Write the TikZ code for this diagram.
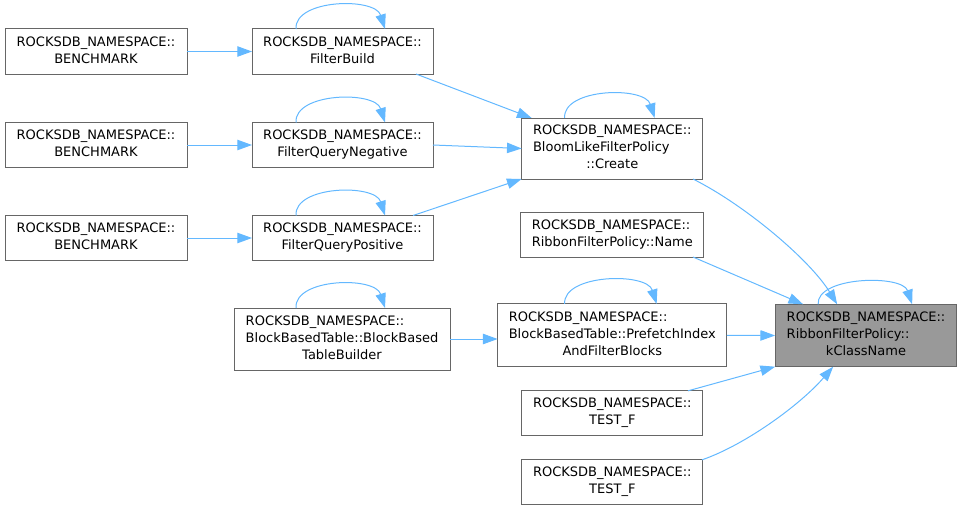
\documentclass[tikz,border=0pt]{standalone}
\usepackage{fontspec}
\setmainfont{DejaVu Sans}
\usetikzlibrary{arrows.meta,calc}
\definecolor{edgeblue}{HTML}{63B8FF}
\definecolor{boxgray}{HTML}{666666}
\definecolor{fillgray}{HTML}{999999}
\newcommand{\twol}[2]{\begin{tabular}{@{}l@{}}#1\\\multicolumn{1}{@{}c@{}}{#2}\end{tabular}}
\newcommand{\threel}[3]{\begin{tabular}{@{}l@{}}#1\\#2\\\multicolumn{1}{@{}c@{}}{#3}\end{tabular}}
\begin{document}
\begin{tikzpicture}[x=0.75pt,y=-0.75pt,
  box/.style={draw=boxgray, line width=0.75pt, fill=white, inner sep=0pt, outer sep=0pt,
    font=\fontsize{9.75}{12.75}\selectfont, text=black},
  hl/.style={box, fill=fillgray},
  edge/.style={draw=edgeblue, line width=0.75pt, -{Triangle[length=11pt,width=7.8pt]}}]
\useasboundingbox (0,0) rectangle (962,510);
% left column
\node[box, minimum width=136.5pt, minimum height=33.75pt] (b1) at (96,51.5) {\twol{ROCKSDB\_NAMESPACE::}{BENCHMARK}};
\node[box, minimum width=136.5pt, minimum height=33.75pt] (b2) at (96,145) {\twol{ROCKSDB\_NAMESPACE::}{BENCHMARK}};
\node[box, minimum width=136.5pt, minimum height=33.75pt] (b3) at (96,238) {\twol{ROCKSDB\_NAMESPACE::}{BENCHMARK}};
% second column
\node[box, minimum width=135.75pt, minimum height=33.75pt] (fb) at (342.5,51.5) {\twol{ROCKSDB\_NAMESPACE::}{FilterBuild}};
\node[box, minimum width=135.75pt, minimum height=33.75pt] (fqn) at (342.5,145) {\twol{ROCKSDB\_NAMESPACE::}{FilterQueryNegative}};
\node[box, minimum width=135.75pt, minimum height=33.75pt] (fqp) at (342.5,238) {\twol{ROCKSDB\_NAMESPACE::}{FilterQueryPositive}};
\node[box, minimum width=162pt, minimum height=46.5pt] (bbtb) at (342,339) {\threel{ROCKSDB\_NAMESPACE::}{BlockBasedTable::BlockBased}{TableBuilder}};
% third column
\node[box, minimum width=136pt, minimum height=45.75pt] (create) at (612.3,148.5) {\threel{ROCKSDB\_NAMESPACE::}{BloomLikeFilterPolicy}{::Create}};
\node[box, minimum width=137.5pt, minimum height=33.75pt] (name) at (612.3,234.5) {\twol{ROCKSDB\_NAMESPACE::}{RibbonFilterPolicy::Name}};
\node[box, minimum width=172pt, minimum height=47pt] (pf) at (612.3,335.3) {\threel{ROCKSDB\_NAMESPACE::}{BlockBasedTable::PrefetchIndex}{AndFilterBlocks}};
\node[box, minimum width=136pt, minimum height=33.25pt] (t1) at (612.3,413) {\twol{ROCKSDB\_NAMESPACE::}{TEST\_F}};
\node[box, minimum width=136pt, minimum height=33.25pt] (t2) at (612.3,482) {\twol{ROCKSDB\_NAMESPACE::}{TEST\_F}};
% target
\node[hl, minimum width=136.3pt, minimum height=46.8pt] (kc) at (866,335.5) {\threel{ROCKSDB\_NAMESPACE::}{RibbonFilterPolicy::}{kClassName}};
% edges
\draw[edge] (b1.east) -- (fb.west);
\draw[edge] (b2.east) -- (fqn.west);
\draw[edge] (b3.east) -- (fqp.west);
\draw[edge] ($(fb.south east)+(-17,0)$) -- ($(create.north west)+(10,0)$);
\draw[edge] (fqn.east) -- (create.west);
\draw[edge] ($(fqp.north east)+(-20,0)$) -- (create.south west);
\draw[edge] (bbtb.east) -- (bbtb.east -| pf.west);
\draw[edge] ($(create.south east)+(-10,0)$) .. controls (745,205) and (810,260) .. ($(kc.north west)+(62,0)$);
\draw[edge] ($(name.south east)+(-11,0)$) -- ($(kc.north west)+(28,0)$);
\draw[edge] (pf.east) -- (kc.west);
\draw[edge] ($(t1.north east)+(-15,0)$) -- (kc.south west);
\draw[edge] ($(t2.north east)+(-1,0)$) .. controls (745,445) and (800,405) .. ($(kc.south west)+(58,0)$);
% self loops
\draw[edge] ($(fb.north west)+(44,0)$) .. controls +(-2,-30) and +(-10,-32) .. ($(fb.north west)+(133,0)$);
\draw[edge] ($(fqn.north west)+(44,0)$) .. controls +(-2,-30) and +(-10,-32) .. ($(fqn.north west)+(133,0)$);
\draw[edge] ($(fqp.north west)+(44,0)$) .. controls +(-2,-30) and +(-10,-32) .. ($(fqp.north west)+(133,0)$);
\draw[edge] ($(create.north west)+(43,0)$) .. controls +(-2,-30) and +(-10,-32) .. ($(create.north west)+(133,0)$);
\draw[edge] ($(bbtb.north west)+(62,0)$) .. controls +(-2,-30) and +(-10,-32) .. ($(bbtb.north west)+(151,0)$);
\draw[edge] ($(pf.north west)+(67,0)$) .. controls +(-2,-30) and +(-10,-32) .. ($(pf.north west)+(159,0)$);
\draw[edge] ($(kc.north west)+(43,0)$) .. controls +(-2,-28) and +(-10,-30) .. ($(kc.north west)+(137,0)$);
\end{tikzpicture}
\end{document}
